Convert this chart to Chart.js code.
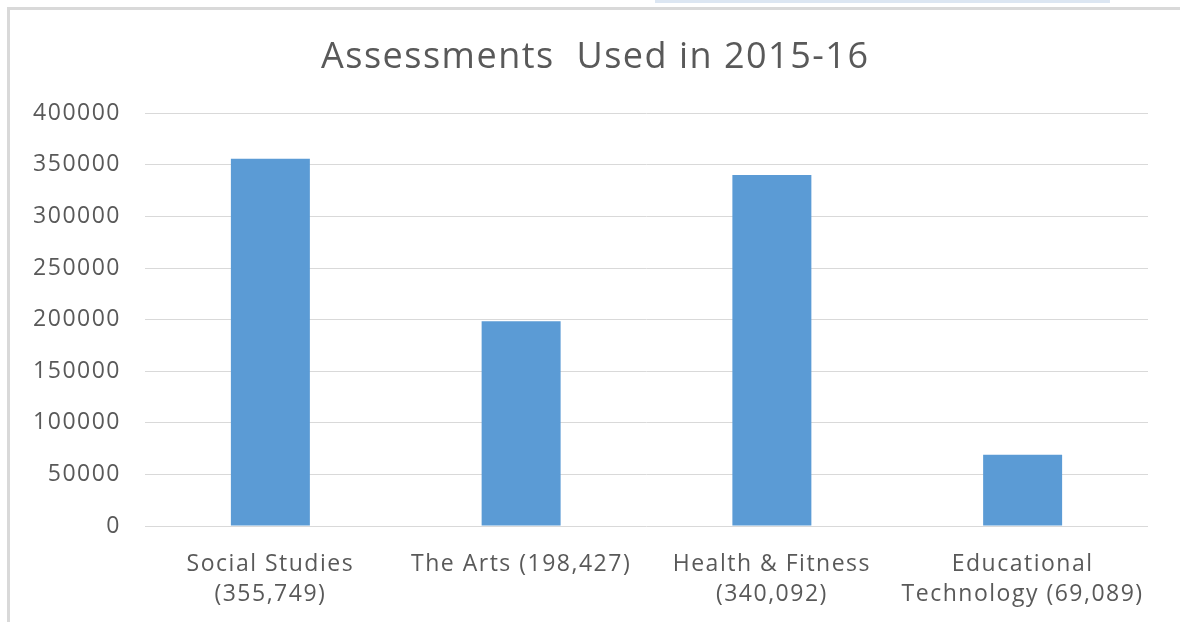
<!DOCTYPE html>
<html>
<head>
<meta charset="utf-8">
<script src="https://cdn.jsdelivr.net/npm/chart.js@4/dist/chart.umd.min.js"></script>
<style>
  html, body { margin: 0; padding: 0; background: #fff; }
  body { width: 1180px; height: 622px; position: relative; overflow: hidden; }
  #frame {
    position: absolute; left: 7px; top: 7px; right: -10px; bottom: -10px;
    border-left: 3px solid #d9d9d9; border-top: 3px solid #d9d9d9;
  }
  #strip {
    position: absolute; left: 655px; top: 0; width: 455px; height: 3px;
    background: #dce6f2;
  }
  #wrap { position: absolute; left: 0; top: 0; width: 1180px; height: 622px; }
</style>
</head>
<body>
<div id="strip"></div>
<div id="frame"></div>
<div id="wrap"><canvas id="chart"></canvas></div>
<script>
// Assessments used in 2015-16, by subject area

const CATEGORIES = [
  ['Social Studies', '(355,749)'],
  'The Arts (198,427)',
  ['Health & Fitness', '(340,092)'],
  ['Educational', 'Technology (69,089)']
];
const VALUES = [355749, 198427, 340092, 69089];
const Y_MAX  = 400000;
const Y_STEP = 50000;

const TEXT = '#595959';
const GRID = '#d9d9d9';
const BAR  = '#5b9bd5';
const FONT = '"Open Sans", "Noto Sans", sans-serif';

// the source text is set a bit wider than Open Sans, so space the letters out
const letterSpacing = {
  id: 'letterSpacing',
  beforeDraw: chart => { chart.ctx.letterSpacing = '1.5px'; }
};

const ctx = document.getElementById('chart').getContext('2d');

new Chart(ctx, {
  type: 'bar',
  data: {
    labels: CATEGORIES,
    datasets: [{
      data: VALUES,
      backgroundColor: BAR,
      borderWidth: 0,
      categoryPercentage: 1,
      barPercentage: 0.315
    }]
  },
  plugins: [letterSpacing],
  options: {
    responsive: true,
    maintainAspectRatio: false,
    animation: false,
    layout: { padding: { left: 10, right: 32, top: 0, bottom: 0 } },
    plugins: {
      legend: { display: false },
      tooltip: { enabled: false },
      title: {
        display: true,
        text: '   Assessments  Used in 2015-16',
        color: TEXT,
        font: { family: FONT, size: 36, weight: 'normal' },
        padding: { top: 36, bottom: 34 }
      }
    },
    scales: {
      x: {
        grid: { display: false, drawTicks: false },
        border: { display: false },
        ticks: {
          color: TEXT,
          font: { family: FONT, size: 23, lineHeight: 1.32 },
          padding: 23,
          maxRotation: 0,
          autoSkip: false
        },
        afterFit: s => { s.height = 96; }
      },
      y: {
        min: 0,
        max: Y_MAX,
        grid: { color: GRID, lineWidth: 1, drawTicks: false },
        border: { display: false },
        ticks: {
          stepSize: Y_STEP,
          color: TEXT,
          font: { family: FONT, size: 23 },
          padding: 24,
          callback: v => String(v)
        },
        afterFit: s => { s.width = 135; }
      }
    }
  }
});
</script>
</body>
</html>
